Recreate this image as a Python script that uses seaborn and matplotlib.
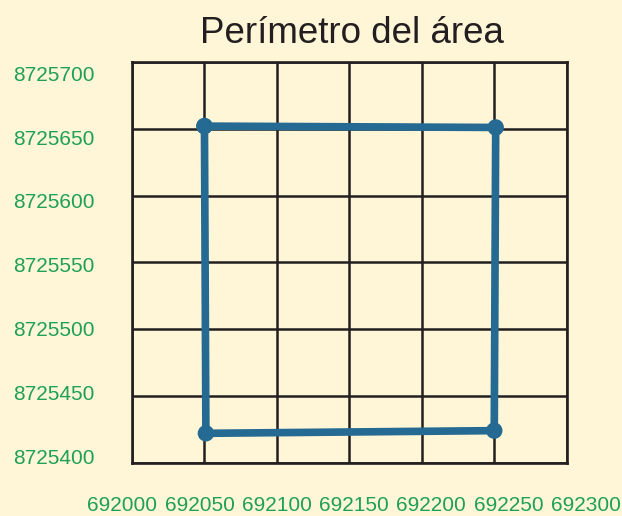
import matplotlib
matplotlib.use("Agg")
import matplotlib.pyplot as plt
import seaborn as sns
import pandas as pd

# vértices del perímetro (UTM), el primero se repite para cerrar
este = [692050, 692251, 692250, 692051, 692050]
norte = [8725652, 8725651, 8725424, 8725422, 8725652]

x_ticks = [692000, 692050, 692100, 692150, 692200, 692250, 692300]
y_ticks = [8725400, 8725450, 8725500, 8725550, 8725600, 8725650, 8725700]
titulo = "Perímetro del área"

bg = "#fff5d7"
ink = "#231f20"
azul = "#246a93"
verde = "#1fa057"

sns.set_theme(style="white")
plt.rcParams["font.family"] = ["Liberation Sans", "DejaVu Sans"]

W, H = 622, 516
fig = plt.figure(figsize=(W / 100, H / 100), dpi=100, facecolor=bg)


def box(l, t, r, b):
    return [l / W, 1 - b / H, (r - l) / W, (b - t) / H]


ax = fig.add_axes(box(132, 62, 566.7, 462.7))
ax.set_facecolor(bg)
ax.set_xlim(x_ticks[0], x_ticks[-1])
ax.set_ylim(y_ticks[0], y_ticks[-1])
ax.set_xticks(x_ticks)
ax.set_yticks(y_ticks)
ax.tick_params(length=0, labelbottom=False, labelleft=False)
ax.grid(True, color=ink, linewidth=1.8)
for s in ax.spines.values():
    s.set_color(ink)
    s.set_linewidth(1.9)

df = pd.DataFrame({"este": este, "norte": norte})
sns.lineplot(data=df, x="este", y="norte", sort=False, estimator=None,
             color=azul, linewidth=5.5, ax=ax, zorder=3)
sns.scatterplot(data=df, x="este", y="norte", color=azul, s=140,
                edgecolor="none", ax=ax, zorder=4)
ax.set_xlabel("")
ax.set_ylabel("")

# etiquetas de los ejes (desplazadas como en el original)
lab = fig.add_axes(box(122.5, 73.3, 585.5, 456), frameon=False)
lab.patch.set_alpha(0)
lab.set_xlim(x_ticks[0], x_ticks[-1])
lab.set_ylim(y_ticks[0], y_ticks[-1])
lab.set_xticks(x_ticks)
lab.set_yticks(y_ticks)
lab.set_xticklabels([str(v) for v in x_ticks])
lab.set_yticklabels([str(v) for v in y_ticks])
lab.tick_params(axis="x", length=0, labelsize=15, labelcolor=verde, pad=28.5)
lab.tick_params(axis="y", length=0, labelsize=15, labelcolor=verde, pad=19.8)

fig.text(351.5 / W, 1 - 43.3 / H, titulo, ha="center", va="baseline",
         fontsize=26.5, color=ink)

fig.savefig("out.png", dpi=100, facecolor=bg)
